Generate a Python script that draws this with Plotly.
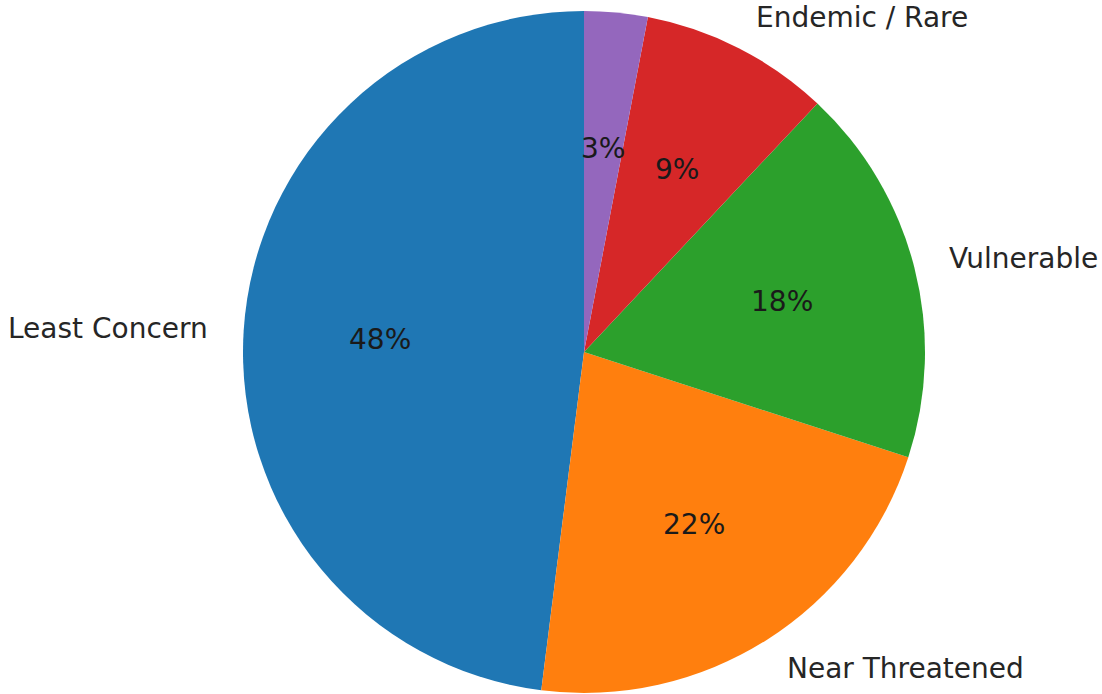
import math
import plotly.graph_objects as go

# Share of species by conservation status (percent)
categories = ["Least Concern", "Near Threatened", "Vulnerable", "Endemic / Rare", ""]
shares = [48, 22, 18, 9, 3]
colors = ["#1f77b4", "#ff7f0e", "#2ca02c", "#d62728", "#9467bd"]

W, H = 1102, 694
CX, CY, R = 584, 352, 341  # pie centre and radius in pixels

total = sum(shares)
# plotly's counterclockwise pie ends the first slice at `rotation`;
# shift it so the first slice starts at 12 o'clock instead
first_sweep = 360.0 * shares[0] / total

fig = go.Figure(
    go.Pie(
        values=shares,
        marker=dict(colors=colors, line=dict(width=0)),
        sort=False,
        direction="counterclockwise",
        rotation=-first_sweep,
        textinfo="none",
        hoverinfo="none",
        showlegend=False,
        domain=dict(
            x=[(CX - R) / W, (CX + R) / W],
            y=[1 - (CY + R) / H, 1 - (CY - R) / H],
        ),
    )
)

# Slice labels outside (1.1 r) and percentages inside (0.6 r), at each slice's mid-angle,
# slices running counterclockwise from 12 o'clock
start = 90.0
annotations = []
for name, v in zip(categories, shares):
    sweep = 360.0 * v / total
    mid = math.radians(start + sweep / 2)
    start += sweep
    ox, oy = math.cos(mid), math.sin(mid)
    if name:
        lx = CX + 1.1 * R * ox
        ly = CY - 1.1 * R * oy
        annotations.append(dict(
            x=lx / W, y=1 - ly / H, xref="paper", yref="paper",
            text=name, showarrow=False,
            xanchor="left" if ox > 0 else "right", yanchor="middle",
            font=dict(family="DejaVu Sans", size=28, color="#262626"),
        ))
    px = CX + 0.6 * R * ox
    py = CY - 0.6 * R * oy
    annotations.append(dict(
        x=px / W, y=1 - py / H, xref="paper", yref="paper",
        text=f"{v}%", showarrow=False, xanchor="center", yanchor="middle",
        font=dict(family="DejaVu Sans", size=28, color="#1a1a1a"),
    ))

fig.update_layout(
    width=W, height=H,
    margin=dict(l=0, r=0, t=0, b=0),
    paper_bgcolor="white", plot_bgcolor="white",
    annotations=annotations,
)

fig.write_html("out.html")
